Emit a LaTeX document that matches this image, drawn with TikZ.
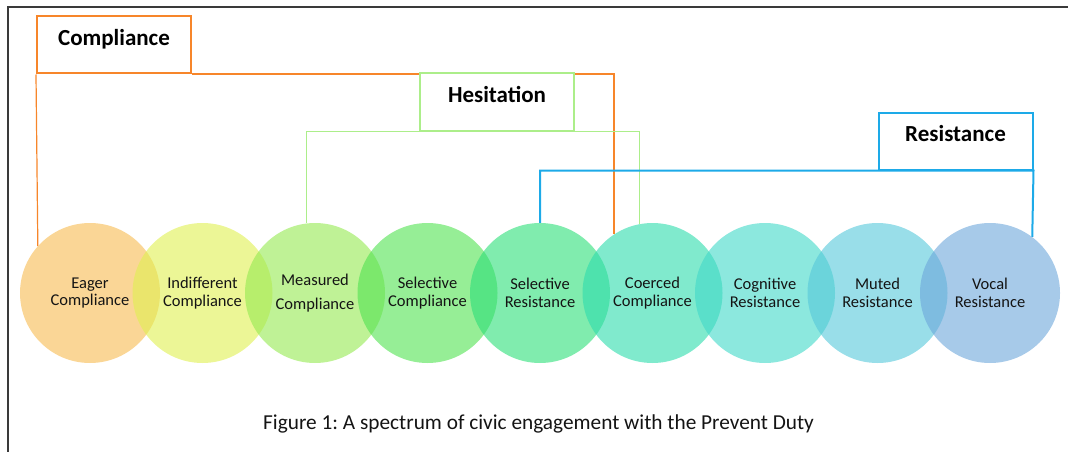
\documentclass[tikz,border=0pt]{standalone}
\usepackage{fontspec}
\setmainfont{Carlito}
\definecolor{frameline}{HTML}{3A3A3A}
\definecolor{complorange}{HTML}{F7862A}
\definecolor{hesgreen}{HTML}{ACEE8A}
\definecolor{resblue}{HTML}{1DAAE8}
\definecolor{txtdark}{HTML}{141414}
% circle fills, left (compliance) to right (resistance)
\definecolor{eagerc}{HTML}{F7BB50}
\definecolor{indiffc}{HTML}{E0F050}
\definecolor{measc}{HTML}{94EA50}
\definecolor{selcomc}{HTML}{50E250}
\definecolor{selresc}{HTML}{2CDF78}
\definecolor{coerc}{HTML}{2CDCAC}
\definecolor{cognc}{HTML}{40D8C8}
\definecolor{mutedc}{HTML}{55C8DA}
\definecolor{vocalc}{HTML}{6CA6DA}
\pgfdeclarelayer{background}
\pgfsetlayers{background,main}
\tikzset{
  spot/.style={circle, minimum size=140pt, inner sep=0pt, fill opacity=.6,
    text opacity=1, text=txtdark, align=center,
    font=\fontsize{16.5}{17.5}\selectfont},
  groupbox/.style={draw, line width=2pt, fill=white, minimum width=154pt,
    inner sep=0pt, text height=29pt, text depth=28pt,
    font=\fontsize{23}{25}\selectfont\bfseries},
}
\begin{document}
\frenchspacing
\begin{tikzpicture}[x=1pt, y=-1pt]
  \useasboundingbox (0,0) rectangle (1068,452);
  \draw [frameline, line width=1.4pt] (8,452) -- (8,7) -- (1068,7);% page edge

  % the spectrum
  \node [spot, fill=eagerc]  (eager)  at (90,293)    {Eager\\Compliance};
  \node [spot, fill=indiffc] (indiff) at (202.5,293) {Indifferent\\Compliance};
  \node [spot, fill=measc]   (meas)   at (315,293)   {Measured\\[6pt]Compliance};
  \node [spot, fill=selcomc] (selcom) at (427.5,293) {Selective\\Compliance};
  \node [spot, fill=selresc] (selres) at (540,293)   {Selective\\Resistance};
  \node [spot, fill=coerc]   (coerc)  at (652.5,293) {Coerced\\Compliance};
  \node [spot, fill=cognc]   (cogn)   at (765,293)   {Cognitive\\Resistance};
  \node [spot, fill=mutedc]  (muted)  at (877.5,293) {Muted\\Resistance};
  \node [spot, fill=vocalc]  (vocal)  at (990,293)   {Vocal\\Resistance};

  % group boxes
  \node [groupbox, draw=complorange] (compl) at (114,45)    {Compliance};
  \node [groupbox, draw=hesgreen]    (hes)   at (497,102)   {Hesitation};
  \node [groupbox, draw=resblue]     (res)   at (955.5,141) {Resistance};

  % brackets, kept under the boxes
  \begin{pgfonlayer}{background}
    \draw [complorange, line width=1.2pt] (eager.138) -- (compl.south west);
    \draw [complorange, line width=2pt] (compl.south east) -| (coerc.123);
    \draw [hesgreen, line width=1.2pt] (meas.97) |- (hes.south) -| (coerc.101);
    \draw [resblue, line width=2pt] (selres.north) |- (res.south east) -- (vocal.53);
  \end{pgfonlayer}

  \node [font=\fontsize{21.3}{24}\selectfont, text=txtdark] (caption) at (538.5,424)
    {Figure 1: A spectrum of civic engagement with the Prevent Duty};
\end{tikzpicture}
\end{document}
